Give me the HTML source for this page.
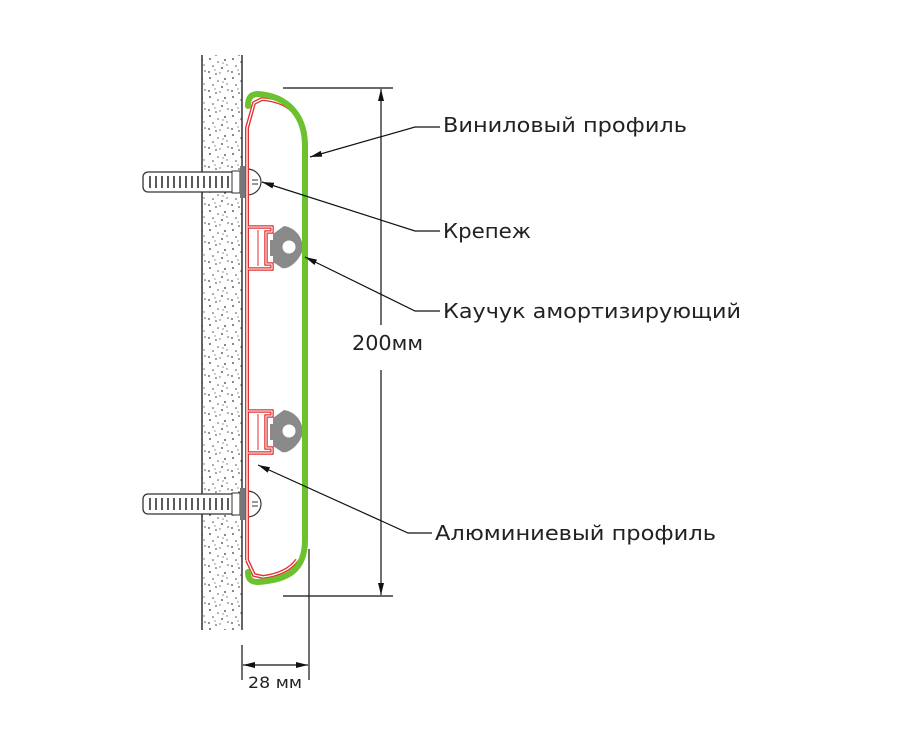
<!DOCTYPE html>
<html><head><meta charset="utf-8"><style>
html,body{margin:0;padding:0;background:#fff}
svg{display:block}
text{font-family:"DejaVu Sans","Liberation Sans",sans-serif;fill:#222}
</style></head><body>
<svg width="900" height="752" viewBox="0 0 900 752" xmlns="http://www.w3.org/2000/svg">
<defs>
<pattern id="sp" width="23" height="19" patternUnits="userSpaceOnUse">
<circle cx="3" cy="2" r="0.9" fill="#333"/><circle cx="11" cy="5" r="0.8" fill="#555"/>
<circle cx="18" cy="3" r="0.9" fill="#333"/><circle cx="6" cy="9" r="0.8" fill="#444"/>
<circle cx="15" cy="11" r="0.9" fill="#333"/><circle cx="21" cy="14" r="0.8" fill="#555"/>
<circle cx="2" cy="15" r="0.9" fill="#444"/><circle cx="9" cy="17" r="0.8" fill="#333"/>
<circle cx="13" cy="16" r="0.7" fill="#666"/><circle cx="20" cy="8" r="0.7" fill="#666"/>
<circle cx="8" cy="13" r="0.6" fill="#555"/><circle cx="16" cy="6" r="0.6" fill="#444"/>
</pattern>
<marker id="ar" viewBox="0 0 12 6" refX="12" refY="3" markerWidth="12" markerHeight="6" orient="auto" markerUnits="userSpaceOnUse"><path d="M0,0 L12,3 L0,6z" fill="#111"/></marker>
<g id="clip">
<path d="M248,-21 H272 V-16 H266 V16 H272 V21 H248" fill="none" stroke="#e03030" stroke-width="3.5"/>
<path d="M248,-21 H272 V-16 H266 V16 H272 V21 H248" fill="none" stroke="#fff" stroke-width="1"/>
<path d="M258,-18 V18" stroke="#e03030" stroke-width="1"/>
<path d="M273,-14 L284,-22 C298,-20 305,-6 302,4 C298,14 288,22 282,20 L273,14 V8 H270 V-8 H273z" fill="#8a8a8a"/>
<circle cx="289" cy="-1" r="6.5" fill="#fff"/>
</g>
<g id="dowel">
<rect x="143" y="-10" width="97" height="20" rx="5" fill="#fff" stroke="#333" stroke-width="1.3"/>
<path d="M150,-6V6M156,-6V6M162,-6V6M168,-6V6M174,-6V6M180,-6V6M186,-6V6M192,-6V6M198,-6V6M204,-6V6M210,-6V6M216,-6V6M222,-6V6M228,-6V6" stroke="#333" stroke-width="1.6"/>
<rect x="232" y="-11" width="8" height="22" fill="#fff" stroke="#333"/>
<rect x="240" y="-16" width="5" height="32" fill="#777"/>
<path d="M247,-13 A14,13 0 0 1 247,13" fill="#fff" stroke="#333" stroke-width="1.2"/>
<path d="M252,-2 H258 M252,2 H258" stroke="#333" stroke-width="1"/>
</g>
</defs>
<rect x="202" y="55" width="40" height="575" fill="url(#sp)"/>
<line x1="202" y1="55" x2="202" y2="630" stroke="#333" stroke-width="1.5"/>
<line x1="242" y1="55" x2="242" y2="630" stroke="#333" stroke-width="1.5"/>
<use href="#dowel" transform="translate(0,182)"/>
<use href="#dowel" transform="translate(0,504)"/>
<path id="al" d="M247,560 V128 L254,103 L262,99 C278,100 290,106 295,114 M247,560 L254,575 L263,577 C278,575 290,570 297,560" fill="none" stroke-linejoin="round"/>
<use href="#al" stroke="#e03030" stroke-width="4" fill="none"/>
<use href="#al" stroke="#fff" stroke-width="1.3" fill="none"/>
<use href="#clip" transform="translate(0,248)"/>
<use href="#clip" transform="translate(0,432)"/>
<path d="M248,106 C248,97 252,94 258,94 C288,96 305,116 305,146 L305,540 C305,570 288,580 258,582 C252,582 248,580 248,572" fill="none" stroke="#6cc12e" stroke-width="6" stroke-linecap="round"/>
<g stroke="#111" stroke-width="1.2" fill="none">
<line x1="283" y1="88" x2="393" y2="88"/>
<line x1="283" y1="596" x2="393" y2="596"/>
<line x1="381" y1="325" x2="381" y2="89" marker-end="url(#ar)"/>
<line x1="381" y1="370" x2="381" y2="595" marker-end="url(#ar)"/>
<line x1="309" y1="549" x2="309" y2="680"/>
<line x1="242" y1="645" x2="242" y2="680"/>
<line x1="275" y1="665" x2="243" y2="665" marker-end="url(#ar)"/>
<line x1="275" y1="665" x2="308" y2="665" marker-end="url(#ar)"/>
<polyline points="440,127 415,127 310,157" marker-end="url(#ar)"/>
<polyline points="440,231 415,231 262,182" marker-end="url(#ar)"/>
<polyline points="440,311 415,311 305,257" marker-end="url(#ar)"/>
<polyline points="432,533 408,533 258,465" marker-end="url(#ar)"/>
</g>
<text x="443" y="132" font-size="20" textLength="244" lengthAdjust="spacingAndGlyphs">Виниловый профиль</text>
<text x="443" y="238" font-size="20" textLength="88" lengthAdjust="spacingAndGlyphs">Крепеж</text>
<text x="443" y="318" font-size="20" textLength="298" lengthAdjust="spacingAndGlyphs">Каучук амортизирующий</text>
<text x="435" y="540" font-size="20" textLength="281" lengthAdjust="spacingAndGlyphs">Алюминиевый профиль</text>
<text x="352" y="350" font-size="20" textLength="71" lengthAdjust="spacingAndGlyphs">200мм</text>
<text x="248" y="688" font-size="16" textLength="54" lengthAdjust="spacingAndGlyphs">28 мм</text>
</svg>
</body></html>
